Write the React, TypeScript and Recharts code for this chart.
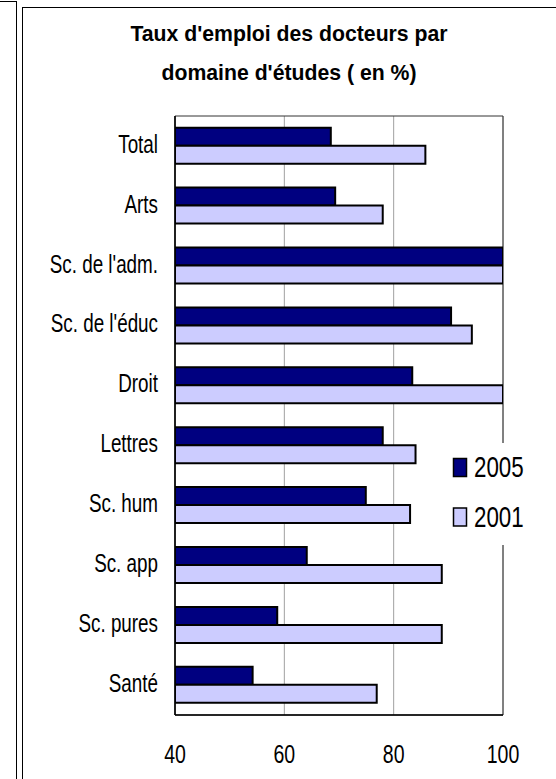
import React from 'react';
import { BarChart, Bar, XAxis, YAxis, CartesianGrid, Legend, ReferenceArea } from 'recharts';

const categories = ['Total', 'Arts', "Sc. de l'adm.", "Sc. de l'éduc", 'Droit', 'Lettres', 'Sc. hum', 'Sc. app', 'Sc. pures', 'Santé'];
const values2005 = [68.5, 69.3, 100, 90.5, 83.4, 78.0, 74.9, 64.1, 58.7, 54.2];
const values2001 = [85.8, 78.0, 100, 94.3, 100, 84.0, 83.0, 88.8, 88.8, 76.9];
const seriesNames = ['2005', '2001'];
const xTicks = [40, 60, 80, 100];
const boundaryTicks = [0, 1, 2, 3, 4, 5, 6, 7, 8, 9, 10];
const titleLines = ["Taux d'emploi des docteurs par", "domaine d'études ( en %)"];

const data = categories.map((c, i) => ({ cat: c, v2005: values2005[i], v2001: values2001[i] }));

const FONT = "'Liberation Sans', Arial, Helvetica, sans-serif";

const CatTick = (props: any) => {
  const { x, y, payload } = props;
  return (
    <text transform={`translate(${x},${y + 6.8}) scale(0.725,1)`} textAnchor="end" fontSize={26} fontFamily={FONT} fill="#000">
      {payload.value}
    </text>
  );
};

const NumTick = (props: any) => {
  const { x, payload } = props;
  return (
    <text transform={`translate(${x},763) scale(0.78,1)`} textAnchor="middle" fontSize={25} fontFamily={FONT} fill="#000">
      {payload.value}
    </text>
  );
};

const LegendContent = (props: any) => {
  const payload = props.payload || [];
  const ordered = seriesNames.map((n) => payload.find((p: any) => p.value === n)).filter(Boolean);
  return (
    <svg width={96} height={102} style={{ display: 'block', background: '#fff', position: 'absolute', left: 0, top: 0 }}>
      {ordered.map((p: any, i: number) => (
        <g key={i}>
          <rect x={7.5} y={15.5 + i * 49.5} width={13} height={18} fill={p.color} stroke="#000" strokeWidth={1.5} />
          <text transform={`translate(28,${33.5 + i * 50}) scale(0.77,1)`} fontSize={29} fontFamily={FONT} fill="#000">
            {p.value}
          </text>
        </g>
      ))}
    </svg>
  );
};

export default function App() {
  return (
    <div style={{ position: 'absolute', left: 0, top: 0, width: 556, height: 779, overflow: 'hidden', background: '#fff' }}>
      <div style={{ position: 'absolute', left: -2, top: 1, width: 19, height: 800, border: '1px solid #000', boxSizing: 'border-box' }} />
      <div style={{ position: 'absolute', left: 22, top: 7, width: 600, height: 800, border: '1px solid #000', boxSizing: 'border-box' }} />
      <div style={{ position: 'absolute', left: 0, top: 0 }}>
        <BarChart
          width={556}
          height={779}
          data={data}
          layout="vertical"
          margin={{ top: 116, right: 53, bottom: 0, left: 0 }}
          barCategoryGap="19.5%"
          barGap={0}
        >
          <CartesianGrid horizontal={false} vertical={true} stroke="#a0a0a0" strokeWidth={1} />
          <ReferenceArea x1={40} x2={100} fill="none" stroke="#333" strokeWidth={1} ifOverflow="visible" />
          <XAxis
            type="number"
            domain={[40, 100]}
            ticks={xTicks}
            allowDataOverflow
            height={64}
            axisLine={{ stroke: '#000', strokeWidth: 1.5 }}
            tickLine={false}
            tick={<NumTick />}
            interval={0}
          />
          <YAxis
            type="category"
            dataKey="cat"
            width={175}
            axisLine={{ stroke: '#000', strokeWidth: 1.5 }}
            tickLine={false}
            tickMargin={11}
            tick={<CatTick />}
            interval={0}
          />
          <YAxis
            yAxisId="bounds"
            type="number"
            domain={[0, 10]}
            ticks={boundaryTicks}
            mirror
            axisLine={false}
            tick={false}
            tickSize={5}
            tickLine={{ stroke: '#000', strokeWidth: 1 }}
            interval={0}
          />
          <Legend
            layout="vertical"
            content={<LegendContent />}
            wrapperStyle={{ left: 446, top: 443, width: 0, height: 0, overflow: 'visible' }}
          />
          <Bar dataKey="v2005" name={seriesNames[0]} fill="#000080" stroke="#000" strokeWidth={2} isAnimationActive={false} />
          <Bar dataKey="v2001" name={seriesNames[1]} fill="#CCCCFF" stroke="#000" strokeWidth={2} isAnimationActive={false} />
        </BarChart>
      </div>
      <svg width={556} height={100} style={{ position: 'absolute', left: 0, top: 0 }}>
        {titleLines.map((t, i) => (
          <text key={i} transform={`translate(289,${41 + i * 39}) scale(0.965,1)`} textAnchor="middle" fontSize={22} fontWeight="bold" fontFamily={FONT} fill="#000">
            {t}
          </text>
        ))}
      </svg>
    </div>
  );
}
